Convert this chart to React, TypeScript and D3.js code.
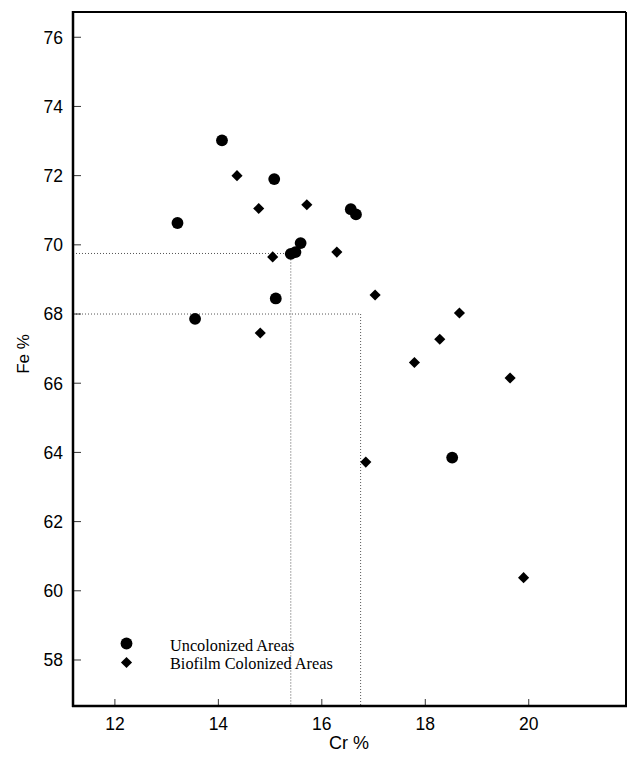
import React from "react";
import * as d3 from "d3";

const uncolonizedCr = [14.07, 13.21, 15.08, 13.55, 15.11, 15.4, 15.49, 15.59, 16.56, 16.66, 18.52];
const uncolonizedFe = [73.02, 70.63, 71.9, 67.86, 68.45, 69.74, 69.79, 70.05, 71.03, 70.88, 63.85];

const biofilmCr = [14.36, 14.78, 15.71, 15.05, 16.29, 14.81, 17.03, 18.66, 18.28, 17.79, 19.64, 16.85, 19.9];
const biofilmFe = [72.0, 71.05, 71.16, 69.65, 69.79, 67.45, 68.55, 68.03, 67.27, 66.6, 66.15, 63.72, 60.38];

const xTicks = [12, 14, 16, 18, 20];
const yTicks = [58, 60, 62, 64, 66, 68, 70, 72, 74, 76];

const refPoints = [
  { cr: 15.4, fe: 69.75 },
  { cr: 16.75, fe: 68.0 },
];

const legendLabels = ["Uncolonized Areas", "Biofilm Colonized Areas"];

export default function App() {
  const W = 628;
  const H = 758;
  const left = 73, right = 626, top = 12, bottom = 706;
  const x = d3.scaleLinear().domain([11.19, 21.88]).range([left, right]);
  const y = d3.scaleLinear().domain([56.67, 76.73]).range([bottom, top]);
  const circ = d3.symbol().type(d3.symbolCircle).size(110)();
  const diam = d3.symbol().type(d3.symbolSquare).size(62)();
  const sans = "'Liberation Sans', Arial, sans-serif";
  const serif = "'Liberation Serif', 'Times New Roman', serif";

  return (
    <svg width={W} height={H} style={{ position: "absolute", left: 0, top: 0, background: "#fff" }}>
      <rect x={0} y={0} width={W} height={H} fill="#fff" />
      {refPoints.map((p, i) => (
        <g key={i} stroke="#555" strokeWidth={1} strokeDasharray="1,2" fill="none">
          <line x1={left} x2={x(p.cr)} y1={y(p.fe)} y2={y(p.fe)} />
          <line x1={x(p.cr)} x2={x(p.cr)} y1={y(p.fe)} y2={bottom} />
        </g>
      ))}
      {yTicks.map((t) => (
        <g key={"y" + t}>
          <line x1={left} x2={left + 8} y1={y(t)} y2={y(t)} stroke="#000" strokeWidth={0.8} />
          <text x={63} y={y(t)} dy="0.36em" textAnchor="end" fontFamily={sans} fontSize={17.5} fill="#000">
            {t}
          </text>
        </g>
      ))}
      {xTicks.map((t) => (
        <g key={"x" + t}>
          <line x1={x(t)} x2={x(t)} y1={bottom} y2={bottom - 7} stroke="#000" strokeWidth={0.8} />
          <text x={x(t)} y={729.5} textAnchor="middle" fontFamily={sans} fontSize={17.5} fill="#000">
            {t}
          </text>
        </g>
      ))}
      <line x1={left} x2={right} y1={top} y2={top} stroke="#000" strokeWidth={2} />
      <line x1={right} x2={right} y1={top} y2={bottom} stroke="#000" strokeWidth={2} />
      <line x1={left} x2={left} y1={top - 1} y2={bottom + 1} stroke="#000" strokeWidth={2.5} />
      <line x1={left - 1} x2={right + 1} y1={bottom} y2={bottom} stroke="#000" strokeWidth={2.5} />
      {uncolonizedCr.map((c, i) => (
        <path key={"u" + i} d={circ} transform={`translate(${x(c)},${y(uncolonizedFe[i])})`} fill="#000" />
      ))}
      {biofilmCr.map((c, i) => (
        <path key={"b" + i} d={diam} transform={`translate(${x(c)},${y(biofilmFe[i])}) rotate(45)`} fill="#000" />
      ))}
      <path d={circ} transform="translate(126.5,643.5)" fill="#000" />
      <path d={diam} transform="translate(126.5,662.5) rotate(45)" fill="#000" />
      <text x={170} y={650.5} fontFamily={serif} fontSize={16.3} fill="#000">{legendLabels[0]}</text>
      <text x={170} y={669} fontFamily={serif} fontSize={16.3} fill="#000">{legendLabels[1]}</text>
      <text x={349} y={749} textAnchor="middle" fontFamily={sans} fontSize={18} fill="#000">Cr %</text>
      <text transform="translate(29,354) rotate(-90)" textAnchor="middle" fontFamily={sans} fontSize={17} fill="#000">Fe %</text>
    </svg>
  );
}
